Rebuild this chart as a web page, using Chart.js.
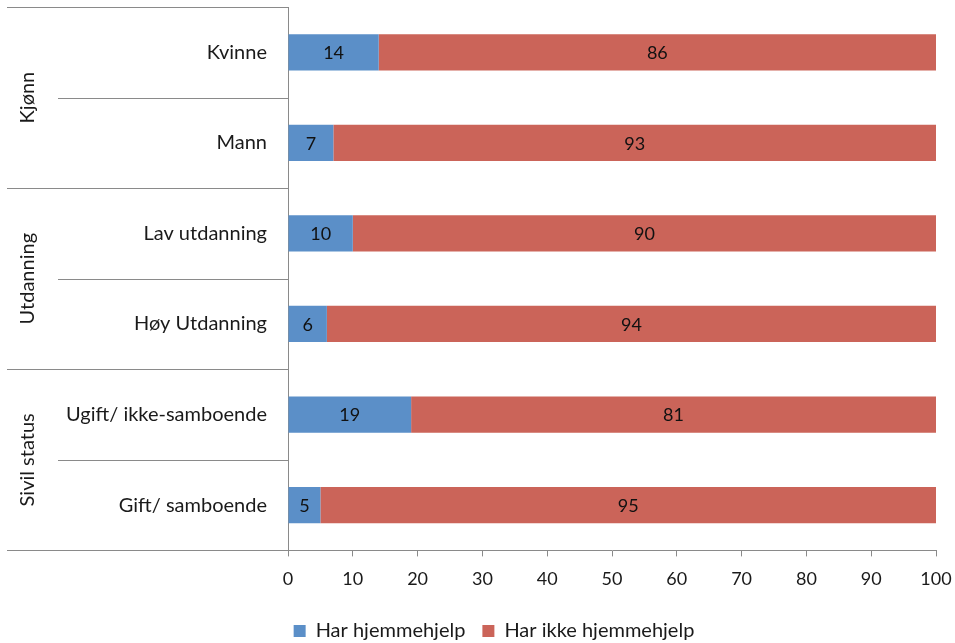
<!DOCTYPE html>
<html>
<head>
<meta charset="utf-8">
<script src="https://cdn.jsdelivr.net/npm/chart.js@4"></script>
<style>
  html, body { margin: 0; padding: 0; background: #fff; }
  #wrap { width: 955px; height: 643px; position: relative; }
</style>
</head>
<body>
<div id="wrap"><canvas id="chart"></canvas></div>
<script>
/* ── DATA ─────────────────────────────────────────────────── */
const categories = ['Kvinne', 'Mann', 'Lav utdanning', 'Høy Utdanning', 'Ugift/ ikke-samboende', 'Gift/ samboende'];
const groups     = ['Kjønn', 'Utdanning', 'Sivil status'];
const groupSize  = 2;
const harHjelp   = [14, 7, 10, 6, 19, 5];
const ikkeHjelp  = [86, 93, 90, 94, 81, 95];
const xTicks     = [0, 10, 20, 30, 40, 50, 60, 70, 80, 90, 100];

const FONT = 'Lato, "Open Sans", sans-serif';
const LINE = '#8a8a8a';

/* ── group labels + separator lines on the left ───────────── */
const groupAxis = {
  id: 'groupAxis',
  afterDraw(chart) {
    const { ctx, chartArea } = chart;
    const y = chart.scales.y;
    const step = y.getPixelForValue(1) - y.getPixelForValue(0);
    ctx.save();
    ctx.strokeStyle = LINE;
    ctx.lineWidth = 1;
    // long lines between groups, short ones between categories
    for (let i = 0; i < categories.length; i++) {
      const py = Math.round(y.getPixelForValue(i) - step / 2) + 0.5;
      const x0 = i % groupSize === 0 ? 7 : 58;
      ctx.beginPath();
      ctx.moveTo(x0, py);
      ctx.lineTo(chartArea.left, py);
      ctx.stroke();
    }
    const pb = Math.round(chartArea.bottom) + 0.5;
    ctx.beginPath();
    ctx.moveTo(7, pb);
    ctx.lineTo(chartArea.left, pb);
    ctx.stroke();

    ctx.fillStyle = '#1a1a1a';
    ctx.font = '20px ' + FONT;
    ctx.textAlign = 'center';
    ctx.textBaseline = 'middle';
    groups.forEach((g, gi) => {
      const a = y.getPixelForValue(gi * groupSize);
      const b = y.getPixelForValue(gi * groupSize + groupSize - 1);
      ctx.save();
      ctx.translate(28, (a + b) / 2);
      ctx.rotate(-Math.PI / 2);
      ctx.fillText(g, 0, 0);
      ctx.restore();
    });
    ctx.restore();
  }
};

/* ── value labels centred in each segment ─────────────────── */
const valueLabels = {
  id: 'valueLabels',
  afterDatasetsDraw(chart) {
    const { ctx } = chart;
    ctx.save();
    ctx.fillStyle = '#111';
    ctx.font = '18px ' + FONT;
    ctx.textAlign = 'center';
    ctx.textBaseline = 'middle';
    chart.data.datasets.forEach((ds, di) => {
      chart.getDatasetMeta(di).data.forEach((bar, i) => {
        const cx = (bar.x + bar.base) / 2;
        ctx.fillText(String(ds.data[i]), cx, bar.y + 1);
      });
    });
    ctx.restore();
  }
};

/* ── move the legend a little right and down ──────────────── */
const legendShift = {
  id: 'legendShift',
  afterLayout(chart) {
    const l = chart.legend;
    l.left += 26; l.right += 26;
    l.top += 2;   l.bottom += 2;
  }
};

new Chart(document.getElementById('chart'), {
  type: 'bar',
  data: {
    labels: categories,
    datasets: [
      { label: 'Har hjemmehjelp',      data: harHjelp,  backgroundColor: '#5b8fc8' },
      { label: 'Har ikke hjemmehjelp', data: ikkeHjelp, backgroundColor: '#cb6459' },
    ],
  },
  options: {
    indexAxis: 'y',
    responsive: true,
    maintainAspectRatio: false,
    animation: false,
    layout: { padding: { top: 7, right: 19, left: 0, bottom: -6 } },
    datasets: { bar: { categoryPercentage: 0.8, barPercentage: 0.5 } },
    scales: {
      x: {
        stacked: true,
        min: 0, max: 100,
        afterBuildTicks: s => { s.ticks = xTicks.map(v => ({ value: v })); },
        afterFit: s => { s.paddingLeft = 0; s.paddingRight = 0; },
        grid: { drawOnChartArea: false, color: LINE, tickLength: 6, offset: false },
        border: { color: LINE },
        ticks: { color: '#1a1a1a', font: { family: FONT, size: 18 }, padding: 12, maxRotation: 0 },
      },
      y: {
        stacked: true,
        afterFit: s => { s.width = 288; s.paddingTop = 0; s.paddingBottom = 0; },
        grid: { display: false },
        border: { color: LINE },
        ticks: { color: '#1a1a1a', font: { family: FONT, size: 20 }, padding: 13 },
      },
    },
    plugins: {
      legend: {
        position: 'bottom',
        labels: { color: '#1a1a1a', font: { family: FONT, size: 20 }, boxWidth: 12, boxHeight: 12, padding: 17 },
      },
      tooltip: { enabled: false },
    },
  },
  plugins: [groupAxis, valueLabels, legendShift],
});
</script>
</body>
</html>
